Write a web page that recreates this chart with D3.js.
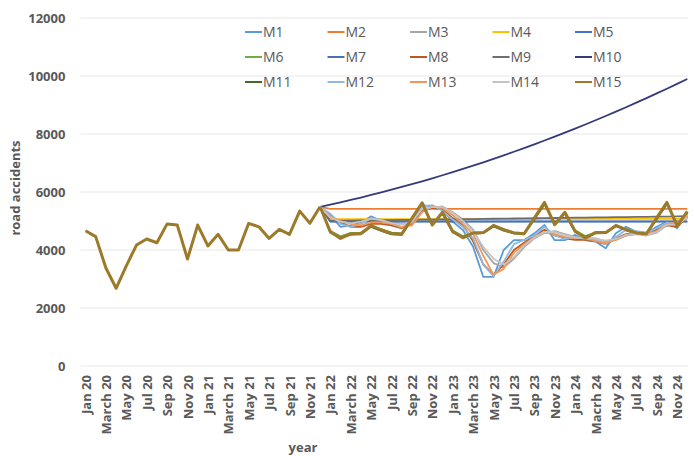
<!DOCTYPE html>
<html>
<head>
<meta charset="utf-8">
<script src="https://cdn.jsdelivr.net/npm/d3@7"></script>
<style>
  body { margin: 0; background: #fff; }
  svg { display: block; }
  text { font-family: "Open Sans", sans-serif; }
</style>
</head>
<body>
<svg id="chart" width="694" height="456"></svg>
<script>
// Month categories, Jan 2020 – Dec 2024
const months = [
  "Jan 20","Feb 20","March 20","Apr 20","May 20","Jun 20","Jul 20","Aug 20","Sep 20","Oct 20","Nov 20","Dec 20",
  "Jan 21","Feb 21","March 21","Apr 21","May 21","Jun 21","Jul 21","Aug 21","Sep 21","Oct 21","Nov 21","Dec 21",
  "Jan 22","Feb 22","March 22","Apr 22","May 22","Jun 22","Jul 22","Aug 22","Sep 22","Oct 22","Nov 22","Dec 22",
  "Jan 23","Feb 23","March 23","Apr 23","May 23","Jun 23","Jul 23","Aug 23","Sep 23","Oct 23","Nov 23","Dec 23",
  "Jan 24","Feb 24","Macrh 24","Apr 24","May 24","Jun 24","Jul 24","Aug 24","Sep 24","Oct 24","Nov 24","Dec 24"
];
// every second month is labelled on the axis
const tickLabels = months.filter((d, i) => i % 2 === 0);
const yTicks = [0, 2000, 4000, 6000, 8000, 10000, 12000];

// Observed road accidents, Jan 2020 – Dec 2021
const observed = [4665, 4460, 3380, 2680, 3450, 4170, 4380, 4250, 4900, 4860, 3690, 4860,
                  4140, 4540, 4000, 4000, 4920, 4800, 4400, 4710, 4540, 5340, 4920, 5490];

// Model forecasts, Jan 2022 – Dec 2024
const m1  = [5200, 4800, 4850, 4950, 5160, 5000, 4850, 4750, 5000, 5550, 5500, 5380,
             4980, 4690, 4110, 3070, 3070, 4000, 4340, 4340, 4575, 4860, 4340, 4340,
             4520, 4340, 4290, 4060, 4575, 4800, 4630, 4575, 4800, 4980, 4750, 5265];
const m2  = [5420, 5420, 5420, 5420, 5420, 5420, 5420, 5420, 5420, 5420, 5420, 5420,
             5420, 5420, 5420, 5420, 5420, 5420, 5420, 5420, 5420, 5420, 5420, 5420,
             5420, 5420, 5420, 5420, 5420, 5420, 5420, 5420, 5420, 5420, 5420, 5420];
const m3  = [5100, 4950, 4950, 5000, 5050, 5000, 4950, 4900, 4950, 5400, 5450, 5500,
             5300, 5050, 4700, 4000, 3550, 3400, 3700, 4100, 4400, 4600, 4650, 4550,
             4450, 4400, 4400, 4300, 4350, 4500, 4550, 4500, 4600, 4850, 4900, 5100];
const m4  = [5060, 5060, 5060, 5061, 5061, 5062, 5062, 5063, 5063, 5064, 5064, 5065,
             5065, 5066, 5066, 5067, 5067, 5068, 5068, 5069, 5069, 5070, 5070, 5071,
             5071, 5072, 5072, 5073, 5073, 5074, 5074, 5075, 5075, 5076, 5076, 5077];
const m5  = [4980, 4980, 4980, 4980, 4980, 4980, 4980, 4980, 4980, 4980, 4980, 4980,
             4980, 4980, 4980, 4980, 4980, 4980, 4980, 4980, 4980, 4980, 4980, 4980,
             4980, 4980, 4980, 4980, 4980, 4980, 4980, 4980, 4980, 4980, 4980, 4980];
const m6  = [4660, 4470, 4590, 4600, 4810, 4720, 4600, 4570, 5060, 5580, 4900, 5270,
             4670, 4480, 4600, 4610, 4820, 4720, 4610, 4580, 5070, 5590, 4910, 5280,
             4680, 4480, 4610, 4620, 4830, 4730, 4620, 4590, 5080, 5600, 4900, 5300];
const m7  = [4990, 4990, 4990, 4990, 4990, 4990, 4990, 4990, 4990, 4990, 4990, 4990,
             4990, 4990, 4990, 4990, 4990, 4990, 4990, 4990, 4990, 4990, 4990, 4990,
             4990, 4990, 4990, 4990, 4990, 4990, 4990, 4990, 4990, 4990, 4990, 4990];
const m8  = [5150, 4950, 4800, 4800, 4900, 4900, 4850, 4750, 4900, 5350, 5450, 5400,
             5100, 4850, 4300, 3500, 3140, 3500, 4000, 4250, 4500, 4700, 4500, 4400,
             4350, 4350, 4300, 4200, 4400, 4550, 4600, 4550, 4700, 4850, 4800, 5150];
const m9  = [5005, 5010, 5014, 5019, 5023, 5028, 5032, 5037, 5041, 5046, 5050, 5055,
             5059, 5064, 5068, 5073, 5077, 5082, 5086, 5091, 5095, 5100, 5104, 5109,
             5113, 5118, 5122, 5127, 5131, 5136, 5140, 5145, 5149, 5154, 5158, 5163];
const m10 = [5566, 5645, 5726, 5810, 5897, 5986, 6078, 6173, 6270, 6370, 6472, 6578,
             6686, 6796, 6909, 7025, 7143, 7265, 7388, 7515, 7644, 7775, 7910, 8047,
             8186, 8329, 8474, 8621, 8771, 8924, 9080, 9238, 9399, 9562, 9728, 9897];
const m11 = [4600, 4430, 4530, 4540, 4800, 4660, 4540, 4520, 5040, 5570, 4880, 5250,
             4610, 4450, 4560, 4580, 4810, 4670, 4570, 4540, 5050, 5580, 4900, 5260,
             4620, 4450, 4570, 4580, 4820, 4680, 4580, 4550, 5060, 5590, 4880, 5280];
const m12 = [5250, 4900, 4800, 4900, 5100, 5050, 4900, 4780, 4950, 5500, 5550, 5350,
             5050, 4800, 4400, 3500, 3100, 3600, 4200, 4350, 4500, 4800, 4500, 4380,
             4450, 4380, 4350, 4200, 4450, 4700, 4650, 4600, 4750, 4950, 4850, 5200];
const m13 = [5150, 5000, 4900, 4850, 4950, 4950, 4900, 4800, 4850, 5300, 5500, 5450,
             5200, 4900, 4550, 3800, 3150, 3350, 3900, 4200, 4450, 4600, 4550, 4450,
             4400, 4450, 4300, 4250, 4350, 4500, 4600, 4550, 4650, 4900, 4950, 5150];
const m14 = [5120, 4980, 4920, 4980, 5080, 5020, 4930, 4880, 4980, 5420, 5480, 5480,
             5280, 5000, 4650, 4100, 3700, 3500, 3750, 4150, 4420, 4620, 4620, 4520,
             4430, 4420, 4380, 4320, 4380, 4520, 4560, 4520, 4620, 4870, 4880, 5120];
const m15 = [4630, 4400, 4560, 4570, 4840, 4690, 4570, 4550, 5090, 5630, 4860, 5300,
             4640, 4420, 4590, 4600, 4850, 4700, 4590, 4560, 5100, 5640, 4870, 5300,
             4650, 4410, 4600, 4600, 4850, 4700, 4590, 4560, 5110, 5640, 4830, 5330];

const seriesNames  = ["M1","M2","M3","M4","M5","M6","M7","M8","M9","M10","M11","M12","M13","M14","M15"];
const seriesValues = [m1, m2, m3, m4, m5, m6, m7, m8, m9, m10, m11, m12, m13, m14, m15];
const seriesColors = ["#5B9BD5","#ED7D31","#A5A5A5","#FFC000","#4472C4","#70AD47","#4A72B0","#C0581B",
                      "#6E6E6E","#353A78","#43682B","#8DB9E2","#F1975A","#C4C4C4","#9C7A2A"];

const svg = d3.select("#chart");
const plotLeft = 80.4, plotRight = 692.4, plotTop = 18, plotBottom = 366;

const x = d3.scalePoint().domain(months).range([plotLeft, plotRight]).padding(0.5);
const y = d3.scaleLinear().domain([0, 12000]).range([plotBottom, plotTop]);

// horizontal gridlines
svg.append("g")
  .selectAll("line")
  .data(yTicks)
  .join("line")
  .attr("x1", plotLeft).attr("x2", 688)
  .attr("y1", d => y(d)).attr("y2", d => y(d))
  .attr("stroke", "#E8E8E8").attr("stroke-width", 1);

// y axis labels
const yAxis = svg.append("g")
  .attr("transform", `translate(${plotLeft},0)`)
  .call(d3.axisLeft(y).tickValues(yTicks).tickSize(0).tickPadding(15).tickFormat(d3.format("d")));
yAxis.select(".domain").remove();
yAxis.selectAll("text")
  .attr("fill", "#595959").attr("font-size", 13).attr("font-weight", 700)
  .style("font-family", "'Open Sans', sans-serif");

// x axis labels, rotated
const xAxis = svg.append("g")
  .attr("transform", `translate(0,${plotBottom})`)
  .call(d3.axisBottom(x).tickValues(tickLabels).tickSize(0));
xAxis.select(".domain").remove();
xAxis.selectAll("text")
  .attr("transform", "rotate(-90)")
  .attr("x", -9).attr("y", 0).attr("dy", "0.35em")
  .style("text-anchor", "end")
  .attr("fill", "#595959").attr("font-size", 13).attr("font-weight", 700)
  .style("font-family", "'Open Sans', sans-serif");

// axis titles
svg.append("text")
  .attr("x", 303).attr("y", 452)
  .attr("text-anchor", "middle")
  .attr("fill", "#595959").attr("font-size", 13).attr("font-weight", 700)
  .text("year");
svg.append("text")
  .attr("transform", "translate(20,188) rotate(-90)")
  .attr("text-anchor", "middle")
  .attr("fill", "#595959").attr("font-size", 13).attr("font-weight", 700)
  .text("road accidents");

const line = d3.line().x(d => x(d.m)).y(d => y(d.v));
const lastObserved = months.length - 36 - 1;

// forecast lines start from the last observed month
seriesValues.forEach((vals, s) => {
  const pts = [{ m: months[lastObserved], v: observed[lastObserved] }]
    .concat(vals.map((v, i) => ({ m: months[lastObserved + 1 + i], v })));
  svg.append("path")
    .datum(pts)
    .attr("fill", "none")
    .attr("stroke", seriesColors[s])
    .attr("stroke-width", s === 14 ? 3 : 1.8)
    .attr("stroke-linejoin", "round")
    .attr("d", line);
});

// observed history, drawn in the M15 style
svg.append("path")
  .datum(observed.map((v, i) => ({ m: months[i], v })))
  .attr("fill", "none")
  .attr("stroke", seriesColors[14])
  .attr("stroke-width", 3)
  .attr("stroke-linejoin", "round")
  .attr("d", line);

// legend: 3 rows x 5 columns
const legend = svg.append("g");
seriesNames.forEach((name, i) => {
  const col = i % 5, row = Math.floor(i / 5);
  const g = legend.append("g").attr("transform", `translate(${245 + col * 82.5},${32 + row * 25})`);
  g.append("line").attr("x1", 0).attr("x2", 17).attr("y1", 0).attr("y2", 0)
    .attr("stroke", seriesColors[i]).attr("stroke-width", 2);
  g.append("text").attr("x", 18).attr("y", 0).attr("dy", "0.35em")
    .attr("fill", "#595959").attr("font-size", 14)
    .text(name);
});
</script>
</body>
</html>
